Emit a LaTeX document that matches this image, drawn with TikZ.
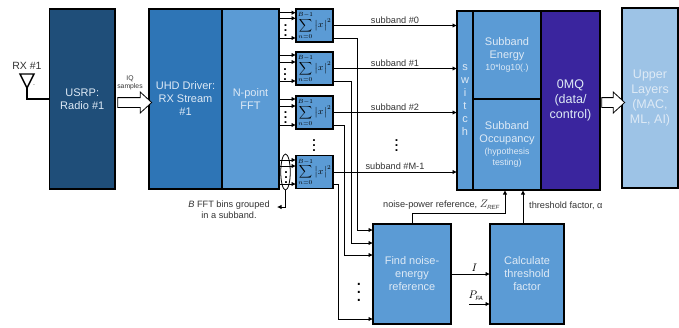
\documentclass[tikz,border=0pt]{standalone}
\usepackage{fontspec}
\usepackage{amsmath}
\setmainfont{Liberation Sans}
\usetikzlibrary{positioning}
\usetikzlibrary{arrows.meta}
\usetikzlibrary{shapes.geometric}
\usetikzlibrary{shapes.arrows}
\definecolor{navyblk}{HTML}{1F4E79}
\definecolor{midblk}{HTML}{2E75B6}
\definecolor{ltblk}{HTML}{5B9BD5}
\definecolor{paleblk}{HTML}{9DC3E6}
\definecolor{zmqblk}{HTML}{3A259E}
\definecolor{blktext}{HTML}{DEEAF6}
\tikzset{
  block/.style={draw=black, line width=1.5pt, inner sep=0pt, outer sep=0pt, align=center, text=blktext,
    font=\fontsize{11}{13}\selectfont},
  sumblk/.style={block, fill=ltblk, minimum width=37pt, minimum height=33pt, text=black,
    font=\fontsize{9}{11}\selectfont},
  wire/.style={line width=0.8pt, -{Latex[length=4.5pt,width=4.5pt]}},
  lbl/.style={text=black!80, inner sep=0pt, font=\fontsize{9.2}{11}\selectfont, align=center},
  fatarrow/.style={single arrow, draw=black, line width=0.8pt, fill=white, inner sep=4.5pt, outer sep=0pt,
    single arrow head extend=5.5pt, shape border rotate=0, single arrow tip angle=85},
  smalldots/.style={inner sep=0pt, text=black, scale=1.25, font=\bfseries},
  bigdots/.style={inner sep=0pt, text=black, scale=2}
}
\newcommand{\sumtext}{$\displaystyle\sum_{n=0}^{B-1}\big|\mkern1mu x\mkern1mu\big|^2$}
\newcommand{\subtag}[1]{\mbox{\fontsize{6}{6}\selectfont\itshape #1}}
\begin{document}
\begin{tikzpicture}[x=1pt,y=-1pt]
  \useasboundingbox (0,0) rectangle (679,327);

  % Radio e antenna
  \node [block, fill=navyblk, minimum width=65.5pt, minimum height=180pt] (usrp) at (82.25,99) {USRP:\\Radio \#1};
  \node [lbl, font=\fontsize{10.5}{12}\selectfont] (rxlabel) at (27,66) {RX \#1};
  \coordinate (anttip) at (27,88);
  \draw [line width=1.4pt] (20,74) -- (34,74) -- (anttip) -- cycle;
  \node [lbl, font=\fontsize{7}{8}\selectfont] (antdot) at (34,85) {.};
  \draw [line width=1.4pt] (anttip) |- (usrp.west);

  % Driver e FFT
  \node [block, fill=midblk, minimum width=73pt, minimum height=180pt] (uhd) at (185.5,99) {UHD Driver:\\RX Stream\\\#1};
  \node [block, fill=ltblk, minimum width=57pt, minimum height=180pt, right=0pt of uhd] (fft) {N-point\\FFT};
  \node [fatarrow, minimum width=20pt, minimum height=34pt] (iqarrow) at (132,102.5) {};
  \node [lbl, font=\fontsize{6.8}{8.5}\selectfont] (iqlabel) at (130,83) {IQ\\samples};

  % Blocchi energia dei sottobanda
  \node [sumblk] (sum0) at (314.5,25.5) {\sumtext};
  \node [sumblk] (sum1) at (314.5,68.5) {\sumtext};
  \node [sumblk] (sum2) at (314.5,112.5) {\sumtext};
  \node [sumblk] (sum3) at (314.5,172) {\sumtext};
  \node [smalldots] (dotsum) at (314,142) {\vdots};

  % Ingressi dalla FFT
  \coordinate (in0a) at (279,12.7);
  \coordinate (in0b) at (279,18.3);
  \coordinate (in0c) at (279,38);
  \coordinate (in1a) at (279,55);
  \coordinate (in1b) at (279,62);
  \coordinate (in1c) at (279,81);
  \coordinate (in2a) at (279,99);
  \coordinate (in2b) at (279,106);
  \coordinate (in2c) at (279,125);
  \coordinate (in3a) at (279,160);
  \coordinate (in3b) at (279,166);
  \coordinate (in3c) at (279,184);
  \draw [wire] (in0a) -- (in0a -| sum0.west);
  \draw [wire] (in0b) -- (in0b -| sum0.west);
  \draw [wire] (in0c) -- (in0c -| sum0.west);
  \draw [wire] (in1a) -- (in1a -| sum1.west);
  \draw [wire] (in1b) -- (in1b -| sum1.west);
  \draw [wire] (in1c) -- (in1c -| sum1.west);
  \draw [wire] (in2a) -- (in2a -| sum2.west);
  \draw [wire] (in2b) -- (in2b -| sum2.west);
  \draw [wire] (in2c) -- (in2c -| sum2.west);
  \draw [wire] (in3a) -- (in3a -| sum3.west);
  \draw [wire] (in3b) -- (in3b -| sum3.west);
  \draw [wire] (in3c) -- (in3c -| sum3.west);
  \node [smalldots] (dotin0) at (285.5,27) {\vdots};
  \node [smalldots] (dotin1) at (285,71) {\vdots};
  \node [smalldots] (dotin2) at (285.5,114) {\vdots};
  \node [smalldots] (dotin3) at (286,174) {\vdots};

  % Gruppo di bin
  \node [ellipse, draw=black, line width=0.8pt, minimum width=9.5pt, minimum height=36pt, inner sep=0pt] (binring) at (285.5,172) {};
  \coordinate (binend) at (277,207);
  \draw [wire] (binring.south) |- (binend);
  \node [lbl] (binnote) at (229,209.5) {\textit{B} FFT bins grouped\\in a subband.};

  % Switch e blocchi a destra
  \node [block, fill=ltblk, minimum width=16pt, minimum height=179pt] (switch) at (465,100.5) {s\\w\\i\\t\\c\\h};
  \node [block, fill=ltblk, minimum width=68pt, minimum height=88pt] (energy) at (507,55) {Subband\\Energy\\[-1.5pt]{\fontsize{8.8}{9}\selectfont 10*log10(.)}};
  \node [block, fill=ltblk, minimum width=68pt, minimum height=91pt, below=0pt of energy] (occupancy) {Subband\\Occupancy\\[-1pt]{\fontsize{8.8}{11}\selectfont (hypothesis}\\[-2pt]{\fontsize{8.8}{11}\selectfont testing)}};
  \node [block, fill=zmqblk, minimum width=59pt, minimum height=179pt, font=\fontsize{12.5}{15}\selectfont] (zmq) at (570.5,100.5) {0MQ\\(data/\\control)};
  \node [block, fill=paleblk, minimum width=56pt, minimum height=180pt, font=\fontsize{12.5}{15}\selectfont] (upper) at (650,98) {Upper\\Layers\\(MAC,\\ML, AI)};
  \node [fatarrow, minimum width=20pt, minimum height=23pt] (outarrow) at (610.5,102.5) {};

  % Uscite verso lo switch
  \draw [wire] (sum0.east) -- (sum0.east -| switch.west) node [pos=0.5, lbl, above=2pt] (lab0) {subband \#0};
  \draw [wire] (sum1.east) -- (sum1.east -| switch.west) node [pos=0.5, lbl, above=2pt] (lab1) {subband \#1};
  \draw [wire] (sum2.east) -- (sum2.east -| switch.west) node [pos=0.5, lbl, above=2pt] (lab2) {subband \#2};
  \draw [wire] (sum3.east) -- (sum3.east -| switch.west) node [pos=0.5, lbl, above=2pt] (lab3) {subband \#M-1};
  \node [smalldots] (dotlab) at (396.5,142) {\vdots};

  % Riferimento di rumore
  \node [block, fill=ltblk, minimum width=78pt, minimum height=100pt] (noise) at (412,274) {Find noise-\\energy\\reference};
  \node [block, fill=ltblk, minimum width=74pt, minimum height=100pt] (thresh) at (527,274) {Calculate\\threshold\\factor};
  \coordinate (out0) at (333,38);
  \coordinate (out1) at (333,81);
  \coordinate (out2) at (333,125);
  \coordinate (out3) at (333,184);
  \draw [wire] (out0) -- (357,38) |- (noise.west |- 0,230);
  \draw [wire] (out1) -- (351,81) |- (noise.west |- 0,243);
  \draw [wire] (out2) -- (344.5,125) |- (noise.west |- 0,255);
  \draw [wire] (out3) -- (338,184) |- (noise.west |- 0,319);
  \node [bigdots] (dotnoise) at (359,286) {\vdots};

  \draw [wire] (noise.north) |- (505,213) -- (occupancy.south -| 505,0);
  \draw [wire] (thresh.north -| 523,0) -- (occupancy.south -| 523,0);
  \node [lbl, anchor=west] (zreflab) at (383,205) {noise-power reference, {\fontsize{10.5}{11}\selectfont $Z_{\subtag{REF}}$}};
  \node [lbl, anchor=west] (alphalab) at (529,206) {threshold factor, α};

  \draw [wire] (noise.east) -- (thresh.west) node [pos=0.6, above=2pt, inner sep=0pt, font=\fontsize{11}{12}\selectfont] (ilab) {$I$};
  \coordinate (pfastart) at (469,304);
  \draw [wire] (pfastart) -- (pfastart -| thresh.west);
  \node [inner sep=0pt, font=\fontsize{11}{12}\selectfont] (pfalab) at (476,296) {$P_{\subtag{FA}}$};
\end{tikzpicture}
\end{document}
